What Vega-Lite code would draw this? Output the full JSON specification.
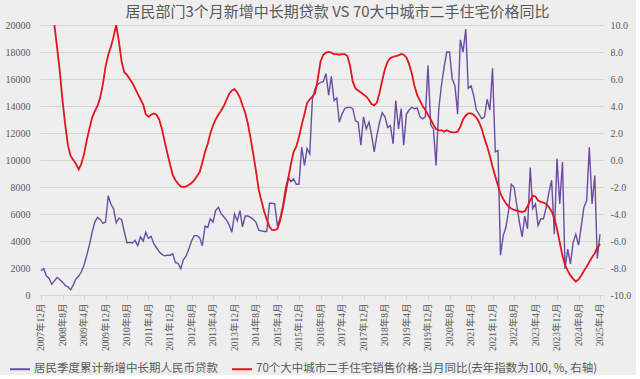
{
"$schema": "https://vega.github.io/schema/vega-lite/v6.json",
"width": 563, "height": 270,
"padding": {"left": 5, "right": 5, "top": 5, "bottom": 0},
"background": "#eeeeee",
"config": {"view": {"stroke": null}},
"title": {"text": "居民部门3个月新增中长期贷款 VS 70大中城市二手住宅价格同比", "font": "Noto Sans CJK SC", "fontSize": 15, "fontWeight": "normal", "color": "#595959", "offset": 0, "dx": 16},
"data": {"values": [
{"d":"2007-12-01","a":1800,"b":null},{"d":"2008-01-01","a":1950,"b":null},{"d":"2008-02-01","a":1400,"b":null},{"d":"2008-03-01","a":1250,"b":null},{"d":"2008-04-01","a":800,"b":null},
{"d":"2008-05-01","a":1050,"b":10.0},{"d":"2008-06-01","a":1300,"b":8.3},{"d":"2008-07-01","a":1150,"b":6.6},{"d":"2008-08-01","a":950,"b":4.4},{"d":"2008-09-01","a":700,"b":2.6},{"d":"2008-10-01","a":600,"b":1.1},{"d":"2008-11-01","a":380,"b":0.3},{"d":"2008-12-01","a":750,"b":0.0},
{"d":"2009-01-01","a":1200,"b":-0.3},{"d":"2009-02-01","a":1400,"b":-0.7},{"d":"2009-03-01","a":1700,"b":-0.3},{"d":"2009-04-01","a":2200,"b":0.4},{"d":"2009-05-01","a":2900,"b":1.4},{"d":"2009-06-01","a":3700,"b":2.3},{"d":"2009-07-01","a":4600,"b":3.1},{"d":"2009-08-01","a":5400,"b":3.6},{"d":"2009-09-01","a":5750,"b":4.0},{"d":"2009-10-01","a":5600,"b":4.6},{"d":"2009-11-01","a":5300,"b":5.6},{"d":"2009-12-01","a":5400,"b":6.9},
{"d":"2010-01-01","a":7350,"b":7.8},{"d":"2010-02-01","a":6700,"b":8.4},{"d":"2010-03-01","a":6400,"b":9.1},{"d":"2010-04-01","a":5350,"b":10.0},{"d":"2010-05-01","a":5700,"b":8.8},{"d":"2010-06-01","a":5600,"b":7.3},{"d":"2010-07-01","a":4700,"b":6.5},{"d":"2010-08-01","a":3850,"b":6.3},{"d":"2010-09-01","a":3900,"b":6.0},{"d":"2010-10-01","a":3850,"b":5.7},{"d":"2010-11-01","a":4050,"b":5.3},{"d":"2010-12-01","a":3650,"b":4.9},
{"d":"2011-01-01","a":4300,"b":4.5},{"d":"2011-02-01","a":4000,"b":4.1},{"d":"2011-03-01","a":4650,"b":3.4},{"d":"2011-04-01","a":4200,"b":3.2},{"d":"2011-05-01","a":4350,"b":3.35},{"d":"2011-06-01","a":3800,"b":3.45},{"d":"2011-07-01","a":3500,"b":3.35},{"d":"2011-08-01","a":3200,"b":3.0},{"d":"2011-09-01","a":3000,"b":2.3},{"d":"2011-10-01","a":2900,"b":1.4},{"d":"2011-11-01","a":2950,"b":0.5},{"d":"2011-12-01","a":2950,"b":-0.3},
{"d":"2012-01-01","a":3050,"b":-1.1},{"d":"2012-02-01","a":2400,"b":-1.5},{"d":"2012-03-01","a":2350,"b":-1.75},{"d":"2012-04-01","a":1950,"b":-1.95},{"d":"2012-05-01","a":2600,"b":-2.0},{"d":"2012-06-01","a":2900,"b":-1.95},{"d":"2012-07-01","a":3400,"b":-1.85},{"d":"2012-08-01","a":4000,"b":-1.7},{"d":"2012-09-01","a":4400,"b":-1.5},{"d":"2012-10-01","a":4400,"b":-1.2},{"d":"2012-11-01","a":4250,"b":-0.9},{"d":"2012-12-01","a":3650,"b":-0.2},
{"d":"2013-01-01","a":5100,"b":0.6},{"d":"2013-02-01","a":5000,"b":1.2},{"d":"2013-03-01","a":5650,"b":1.95},{"d":"2013-04-01","a":5400,"b":2.55},{"d":"2013-05-01","a":6250,"b":3.0},{"d":"2013-06-01","a":6500,"b":3.35},{"d":"2013-07-01","a":6050,"b":3.65},{"d":"2013-08-01","a":5800,"b":4.0},{"d":"2013-09-01","a":5550,"b":4.45},{"d":"2013-10-01","a":5200,"b":4.9},{"d":"2013-11-01","a":4650,"b":5.15},{"d":"2013-12-01","a":6000,"b":5.25},
{"d":"2014-01-01","a":5500,"b":5.0},{"d":"2014-02-01","a":6250,"b":4.6},{"d":"2014-03-01","a":5050,"b":4.05},{"d":"2014-04-01","a":5850,"b":3.5},{"d":"2014-05-01","a":5850,"b":2.7},{"d":"2014-06-01","a":5750,"b":1.6},{"d":"2014-07-01","a":5600,"b":0.45},{"d":"2014-08-01","a":5400,"b":-0.8},{"d":"2014-09-01","a":4800,"b":-2.2},{"d":"2014-10-01","a":4750,"b":-3.0},{"d":"2014-11-01","a":4700,"b":-3.8},{"d":"2014-12-01","a":4700,"b":-4.4},
{"d":"2015-01-01","a":6800,"b":-4.95},{"d":"2015-02-01","a":6800,"b":-5.2},{"d":"2015-03-01","a":6750,"b":-5.2},{"d":"2015-04-01","a":5100,"b":-5.1},{"d":"2015-05-01","a":5700,"b":-4.5},{"d":"2015-06-01","a":6600,"b":-3.6},{"d":"2015-07-01","a":7900,"b":-2.5},{"d":"2015-08-01","a":8700,"b":-1.4},{"d":"2015-09-01","a":8400,"b":-0.3},{"d":"2015-10-01","a":8600,"b":0.6},{"d":"2015-11-01","a":8200,"b":1.0},{"d":"2015-12-01","a":8200,"b":1.7},
{"d":"2016-01-01","a":10950,"b":2.6},{"d":"2016-02-01","a":9600,"b":3.4},{"d":"2016-03-01","a":10850,"b":4.2},{"d":"2016-04-01","a":10450,"b":4.5},{"d":"2016-05-01","a":14500,"b":4.7},{"d":"2016-06-01","a":15300,"b":4.95},{"d":"2016-07-01","a":15600,"b":6.0},{"d":"2016-08-01","a":15750,"b":7.3},{"d":"2016-09-01","a":15800,"b":7.8},{"d":"2016-10-01","a":16400,"b":7.95},{"d":"2016-11-01","a":14800,"b":8.0},{"d":"2016-12-01","a":16200,"b":7.95},
{"d":"2017-01-01","a":14400,"b":7.85},{"d":"2017-02-01","a":14600,"b":7.85},{"d":"2017-03-01","a":12800,"b":7.8},{"d":"2017-04-01","a":13400,"b":7.85},{"d":"2017-05-01","a":13800,"b":7.85},{"d":"2017-06-01","a":13900,"b":7.7},{"d":"2017-07-01","a":13900,"b":7.0},{"d":"2017-08-01","a":13800,"b":5.8},{"d":"2017-09-01","a":12900,"b":5.3},{"d":"2017-10-01","a":12800,"b":5.15},{"d":"2017-11-01","a":11100,"b":5.0},{"d":"2017-12-01","a":13200,"b":4.85},
{"d":"2018-01-01","a":12300,"b":4.7},{"d":"2018-02-01","a":12800,"b":4.45},{"d":"2018-03-01","a":11900,"b":4.15},{"d":"2018-04-01","a":10600,"b":4.05},{"d":"2018-05-01","a":11800,"b":4.25},{"d":"2018-06-01","a":12800,"b":5.0},{"d":"2018-07-01","a":13500,"b":5.9},{"d":"2018-08-01","a":13200,"b":6.75},{"d":"2018-09-01","a":12400,"b":7.3},{"d":"2018-10-01","a":12550,"b":7.55},{"d":"2018-11-01","a":11200,"b":7.65},{"d":"2018-12-01","a":14400,"b":7.7},
{"d":"2019-01-01","a":12300,"b":7.75},{"d":"2019-02-01","a":13800,"b":7.85},{"d":"2019-03-01","a":11100,"b":7.8},{"d":"2019-04-01","a":13400,"b":7.6},{"d":"2019-05-01","a":13700,"b":7.1},{"d":"2019-06-01","a":13900,"b":6.4},{"d":"2019-07-01","a":13800,"b":5.5},{"d":"2019-08-01","a":13850,"b":4.8},{"d":"2019-09-01","a":13200,"b":4.4},{"d":"2019-10-01","a":13050,"b":4.0},{"d":"2019-11-01","a":13200,"b":3.7},{"d":"2019-12-01","a":17000,"b":3.35},
{"d":"2020-01-01","a":12600,"b":3.0},{"d":"2020-02-01","a":12300,"b":2.6},{"d":"2020-03-01","a":9600,"b":2.3},{"d":"2020-04-01","a":13800,"b":2.2},{"d":"2020-05-01","a":15500,"b":2.2},{"d":"2020-06-01","a":16900,"b":2.1},{"d":"2020-07-01","a":18000,"b":2.2},{"d":"2020-08-01","a":18000,"b":2.1},{"d":"2020-09-01","a":16000,"b":2.05},{"d":"2020-10-01","a":15500,"b":2.05},{"d":"2020-11-01","a":13400,"b":2.1},{"d":"2020-12-01","a":18900,"b":2.45},
{"d":"2021-01-01","a":18000,"b":3.0},{"d":"2021-02-01","a":19700,"b":3.3},{"d":"2021-03-01","a":15300,"b":3.45},{"d":"2021-04-01","a":15500,"b":3.45},{"d":"2021-05-01","a":14800,"b":3.35},{"d":"2021-06-01","a":13700,"b":3.15},{"d":"2021-07-01","a":13400,"b":2.8},{"d":"2021-08-01","a":13050,"b":2.3},{"d":"2021-09-01","a":13200,"b":1.6},{"d":"2021-10-01","a":14500,"b":1.0},{"d":"2021-11-01","a":13700,"b":0.3},{"d":"2021-12-01","a":16800,"b":-0.5},
{"d":"2022-01-01","a":10600,"b":-1.2},{"d":"2022-02-01","a":10700,"b":-1.9},{"d":"2022-03-01","a":2950,"b":-2.5},{"d":"2022-04-01","a":4400,"b":-2.9},{"d":"2022-05-01","a":5000,"b":-3.2},{"d":"2022-06-01","a":6250,"b":-3.45},{"d":"2022-07-01","a":8200,"b":-3.6},{"d":"2022-08-01","a":8000,"b":-3.7},{"d":"2022-09-01","a":6700,"b":-3.75},{"d":"2022-10-01","a":5400,"b":-3.8},{"d":"2022-11-01","a":4300,"b":-3.85},{"d":"2022-12-01","a":5850,"b":-3.8},
{"d":"2023-01-01","a":4900,"b":-3.45},{"d":"2023-02-01","a":9450,"b":-3.0},{"d":"2023-03-01","a":6400,"b":-2.65},{"d":"2023-04-01","a":6750,"b":-2.7},{"d":"2023-05-01","a":5150,"b":-3.0},{"d":"2023-06-01","a":5650,"b":-3.1},{"d":"2023-07-01","a":5650,"b":-3.15},{"d":"2023-08-01","a":6500,"b":-3.25},{"d":"2023-09-01","a":7600,"b":-3.5},{"d":"2023-10-01","a":8500,"b":-3.8},{"d":"2023-11-01","a":4500,"b":-4.3},{"d":"2023-12-01","a":10100,"b":-5.1},
{"d":"2024-01-01","a":6750,"b":-6.1},{"d":"2024-02-01","a":9850,"b":-7.1},{"d":"2024-03-01","a":1950,"b":-7.8},{"d":"2024-04-01","a":3400,"b":-8.2},{"d":"2024-05-01","a":2300,"b":-8.55},{"d":"2024-06-01","a":3900,"b":-8.8},{"d":"2024-07-01","a":4500,"b":-9.0},{"d":"2024-08-01","a":3700,"b":-8.85},{"d":"2024-09-01","a":5100,"b":-8.55},{"d":"2024-10-01","a":6500,"b":-8.2},{"d":"2024-11-01","a":7000,"b":-7.9},{"d":"2024-12-01","a":10950,"b":-7.55},
{"d":"2025-01-01","a":6750,"b":-7.2},{"d":"2025-02-01","a":8850,"b":-6.9},{"d":"2025-03-01","a":2700,"b":-6.5},{"d":"2025-04-01","a":4500,"b":-6.2}
]},
"encoding": {
  "x": {"field": "d", "type": "temporal",
    "scale": {"type": "utc", "domain": [{"year": 2007, "month": 11, "date": 20, "utc": true}, {"year": 2025, "month": 5, "date": 5, "utc": true}]},
    "axis": {"title": null, "grid": false, "domain": false, "ticks": true, "tickSize": 4, "tickColor": "#d0d0d0", "labelAngle": -90, "labelPadding": 4,
      "labelFont": "Liberation Serif, Noto Sans CJK SC", "labelFontSize": 9.5, "labelColor": "#595959",
      "labelExpr": "utcFormat(datum.value, '%Y年%-m月')",
      "values": [
        {"year":2007,"month":12,"date":1,"utc":true},{"year":2008,"month":8,"date":1,"utc":true},{"year":2009,"month":4,"date":1,"utc":true},{"year":2009,"month":12,"date":1,"utc":true},
        {"year":2010,"month":8,"date":1,"utc":true},{"year":2011,"month":4,"date":1,"utc":true},{"year":2011,"month":12,"date":1,"utc":true},{"year":2012,"month":8,"date":1,"utc":true},
        {"year":2013,"month":4,"date":1,"utc":true},{"year":2013,"month":12,"date":1,"utc":true},{"year":2014,"month":8,"date":1,"utc":true},{"year":2015,"month":4,"date":1,"utc":true},
        {"year":2015,"month":12,"date":1,"utc":true},{"year":2016,"month":8,"date":1,"utc":true},{"year":2017,"month":4,"date":1,"utc":true},{"year":2017,"month":12,"date":1,"utc":true},
        {"year":2018,"month":8,"date":1,"utc":true},{"year":2019,"month":4,"date":1,"utc":true},{"year":2019,"month":12,"date":1,"utc":true},{"year":2020,"month":8,"date":1,"utc":true},
        {"year":2021,"month":4,"date":1,"utc":true},{"year":2021,"month":12,"date":1,"utc":true},{"year":2022,"month":8,"date":1,"utc":true},{"year":2023,"month":4,"date":1,"utc":true},
        {"year":2023,"month":12,"date":1,"utc":true},{"year":2024,"month":8,"date":1,"utc":true},{"year":2025,"month":4,"date":1,"utc":true}
      ]}}
},
"layer": [
  {"mark": {"type": "line", "strokeWidth": 1.4, "clip": true},
   "encoding": {
     "y": {"field": "a", "type": "quantitative", "scale": {"domain": [0, 20000], "nice": false},
       "axis": {"title": null, "orient": "left", "values": [0,2000,4000,6000,8000,10000,12000,14000,16000,18000,20000], "format": "d",
         "grid": true, "gridColor": "#d4d4d4", "gridWidth": 1, "domain": false, "ticks": false, "labelPadding": 10,
         "labelFont": "Liberation Serif", "labelFontSize": 10, "labelColor": "#595959"}},
     "color": {"datum": "居民季度累计新增中长期人民币贷款", "type": "nominal",
       "scale": {"domain": ["居民季度累计新增中长期人民币贷款", "70个大中城市二手住宅销售价格:当月同比(去年指数为100, %, 右轴)"], "range": ["#6a4ca2", "#e3141c"]},
       "legend": {"title": null, "orient": "none", "legendX": -31, "legendY": 333, "direction": "horizontal", "symbolType": "stroke", "symbolSize": 400, "symbolStrokeWidth": 2,
         "labelFont": "Noto Sans CJK SC", "labelFontSize": 11.5, "labelColor": "#595959", "columnPadding": 10, "labelOffset": 3, "labelLimit": 500}}
   }},
  {"mark": {"type": "line", "strokeWidth": 1.8, "clip": true},
   "encoding": {
     "y": {"field": "b", "type": "quantitative", "scale": {"domain": [-10, 10], "nice": false},
       "axis": {"title": null, "orient": "right", "values": [-10,-8,-6,-4,-2,0,2,4,6,8,10], "grid": false, "domain": false, "ticks": false, "labelPadding": 7,
         "labelExpr": "(datum.value < 0 ? '-' : '') + format(abs(datum.value), '.1f')",
         "labelFont": "Liberation Serif", "labelFontSize": 10, "labelColor": "#595959"}},
     "color": {"datum": "70个大中城市二手住宅销售价格:当月同比(去年指数为100, %, 右轴)", "type": "nominal"}
   }}
],
"resolve": {"scale": {"y": "independent"}}
}
